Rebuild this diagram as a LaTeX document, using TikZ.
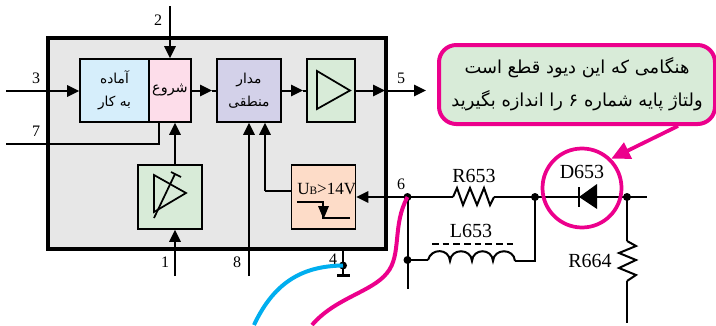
\documentclass[tikz,border=0pt]{standalone}
\usepackage{fontspec}
\setmainfont{Liberation Serif}
\newfontfamily\arabicfont[Script=Arabic]{DejaVu Sans}
\TeXXeTstate=1
\usetikzlibrary{arrows.meta,calc}
\newcommand{\fatext}[1]{{\arabicfont\beginR #1\endR}}
\definecolor{panelgrey}{HTML}{E7E7E7}
\definecolor{readyblue}{HTML}{D6EEFB}
\definecolor{startpink}{HTML}{FDDDEA}
\definecolor{logicviolet}{HTML}{D3D1E9}
\definecolor{ampgreen}{HTML}{D8EBD8}
\definecolor{sensorange}{HTML}{FDDCC8}
\definecolor{hilite}{HTML}{EC008C}
\definecolor{wireblue}{HTML}{00AEEF}
\tikzset{
  x=0.75pt,y=-0.75pt,
  wire/.style={line width=1.5pt,line join=miter},
  arr/.style={wire,-{Triangle[length=9pt,width=8.5pt]}},
  block/.style={draw=black,line width=1.3pt,inner sep=0pt,align=center,font=\fontsize{10.3}{15}\selectfont},
  pinlabel/.style={font=\fontsize{12}{14}\selectfont,inner sep=0pt},
  partlabel/.style={font=\fontsize{15}{17}\selectfont,inner sep=0pt},
  dot/.style={circle,fill=black,inner sep=0pt,minimum size=6pt},
  symbolline/.style={line width=1.3pt,line join=miter},
  hiline/.style={draw=hilite,line width=2.8pt},
}
\begin{document}
\begin{tikzpicture}
\useasboundingbox (0,0) rectangle (716,325);
% panel
\node[draw=black,fill=panelgrey,line width=2.4pt,minimum width=338*0.75pt,minimum height=211*0.75pt,inner sep=0pt] (panel) at (217,143.5) {};
% blocks
\node[block,fill=readyblue,minimum width=69*0.75pt,minimum height=63*0.75pt] (ready) at (114.5,90.5) {\fatext{آماده}\\[2pt]\fatext{به کار}};
\node[block,fill=startpink,minimum width=42*0.75pt,minimum height=63*0.75pt] (start) at (170,90.5) {\fontsize{10.8}{15}\selectfont\fatext{شروع}};
\node[block,fill=logicviolet,minimum width=64*0.75pt,minimum height=63*0.75pt] (logic) at (249,90.5) {\fatext{مدار}\\[2pt]\fatext{منطقی}};
\node[block,fill=ampgreen,minimum width=48*0.75pt,minimum height=63*0.75pt] (amp) at (331,90.5) {};
\node[block,fill=ampgreen,minimum width=64*0.75pt,minimum height=64*0.75pt] (sense) at (170,197) {};
\node[block,fill=sensorange,minimum width=64*0.75pt,minimum height=64*0.75pt] (ubox) at (323.5,197) {};
% block symbols
\draw[symbolline] (317,71) -- (350,90.5) -- (317,109) -- cycle;
\draw[symbolline] (154,175) -- (186,193) -- (154,212) -- cycle;
\draw[symbolline] (154,218) -- (175,174) (171,172) -- (181,177);
\node[anchor=base west,inner sep=0pt,font=\fontsize{12.8}{15}\selectfont] (ubtext) at (297,194) {U{\fontsize{8.5}{10}\selectfont B}>14V};
\draw[symbolline] (297,202) -- (323,202) -- (323,218) -- (350,218);
\fill (318,206) -- (329,206) -- (323.5,219) -- cycle;
% free ends
\coordinate (in2) at (170,6);
\coordinate (in3) at (6,91);
\coordinate (in7) at (6,144);
\coordinate (bend7) at (159,144);
\coordinate (in1) at (175,276);
\coordinate (in8) at (249,276);
\coordinate (tipA) at (212,90.5);
\coordinate (tipB) at (303,90.5);
\coordinate (tipC) at (385,90.5);
\coordinate (out5) at (426,90.5);
\coordinate (bendU) at (265,191);
% connectors inside
\draw[arr] (in2) -- (start.north);
\draw[arr] (in3) -- (ready.west |- in3);
\draw[wire] (in7) -- (bend7) -- (bend7 |- start.south);
\draw[arr] (sense.north -| in1) -- (start.south -| in1);
\draw[arr] (start.east) -- (tipA);
\draw[wire] (tipA) -- (logic.west);
\draw[arr] (logic.east) -- (tipB);
\draw[wire] (tipB) -- (amp.west);
\draw[arr] (amp.east) -- (tipC);
\draw[arr] (tipC) -- (out5);
\draw[arr] (in1) -- (in1 |- sense.south);
\draw[arr] (in8) -- (in8 |- logic.south);
\draw[wire] (ubox.west |- bendU) -- (bendU);
\draw[arr] (bendU) -- (bendU |- logic.south);
% circuit nodes
\node[dot] (j6) at (407.5,197) {};
\node[dot] (jL) at (407.5,260) {};
\node[dot] (jR) at (535,197) {};
\node[dot] (jD) at (627,197) {};
\node[dot] (j4) at (343,265.5) {};
\coordinate (gnd) at (343,275);
\coordinate (vend) at (407.5,289);
\coordinate (rightend) at (647,197);
\coordinate (bottomend) at (627,323);
\coordinate (coilA) at (428,260);
\coordinate (coilB) at (515,261);
\coordinate (cornerL) at (535,261);
\coordinate (rA) at (453,197);
\coordinate (rB) at (494,197);
\coordinate (dA) at (579,197);
\coordinate (dB) at (597,197);
\coordinate (r2A) at (627,241);
\coordinate (r2B) at (627,281);
\draw[arr] (j6.center) -- (ubox.east |- j6);
\draw[wire] (j6.center) -- (rA);
\draw[wire] (rA) -- (457,188) -- (463,205) -- (470,188) -- (477,205) -- (484,188) -- (490,205) -- (rB);
\draw[wire] (rB) -- (jR.center) -- (dA);
\draw[wire] (dB) -- (jD.center) -- (rightend);
\draw[wire] (j6.center) -- (vend);
\draw[wire] (jL.center) -- (coilA);
\draw[wire] (coilA) .. controls (431,248) and (449,248) .. (450,261)
  .. controls (451,248) and (471,248) .. (472,261)
  .. controls (473,248) and (492,248) .. (493,261)
  .. controls (494,248) and (514,248) .. (coilB);
\draw[wire] (coilB) -- (cornerL) -- (jR.center);
\draw[wire,dashed,dash pattern=on 5pt off 3pt] (432,244) -- (513,244);
\draw[line width=1.3pt] (dA) ++(0,-10) -- ++(0,20);
\fill (dA) -- (dB |- 0,184) -- (dB |- 0,209) -- cycle;
\draw[wire] (jD.center) -- (r2A);
\draw[wire] (r2A) -- (636,246) -- (619,253) -- (636,260) -- (619,268) -- (636,275) -- (r2B);
\draw[wire] (r2B) -- (bottomend);
\draw[wire] (j4.center |- panel.south) -- (gnd);
\draw[line width=2.6pt] (337,275.5) -- (349.5,275.5);
% labels
\node[pinlabel] (l2) at (158,20) {2};
\node[pinlabel] (l3) at (36,78) {3};
\node[pinlabel] (l7) at (36,131) {7};
\node[pinlabel] (l1) at (165,262) {1};
\node[pinlabel] (l8) at (237,262) {8};
\node[pinlabel] (l5) at (401,78) {5};
\node[pinlabel] (l6) at (401,184) {6};
\node[pinlabel] (l4) at (333,259) {4};
\node[partlabel] (lR653) at (474,176) {R653};
\node[partlabel] (lL653) at (471,231) {L653};
\node[partlabel] (lD653) at (582,172) {D653};
\node[partlabel] (lR664) at (590,261) {R664};
% coloured leads
\draw[wireblue,line width=3pt] (j4.center) .. controls (305,266) and (275,280) .. (254,325);
\draw[hilite,line width=3pt] (j6.center) .. controls (392,225) and (402,255) .. (387,273)
  .. controls (372,292) and (335,298) .. (312,325);
% callout
\node[draw=hilite,fill=ampgreen,line width=3pt,rounded corners=13pt,minimum width=276*0.75pt,minimum height=79*0.75pt,inner sep=0pt,align=center,font=\fontsize{13.4}{25}\selectfont] (note) at (577,84.5)
  {\fatext{هنگامی که این دیود قطع است}\\\fatext{ولتاژ پایه شماره ۶ را اندازه بگیرید}};
\node[circle,hiline,minimum size=79*0.75pt,inner sep=0pt] (ring) at (582,188) {};
\draw[hilite,line width=2.8pt,-{Triangle[length=14pt,width=13pt]}] (note.south -| 678,0) -- (ring.north east);
\end{tikzpicture}
\end{document}
